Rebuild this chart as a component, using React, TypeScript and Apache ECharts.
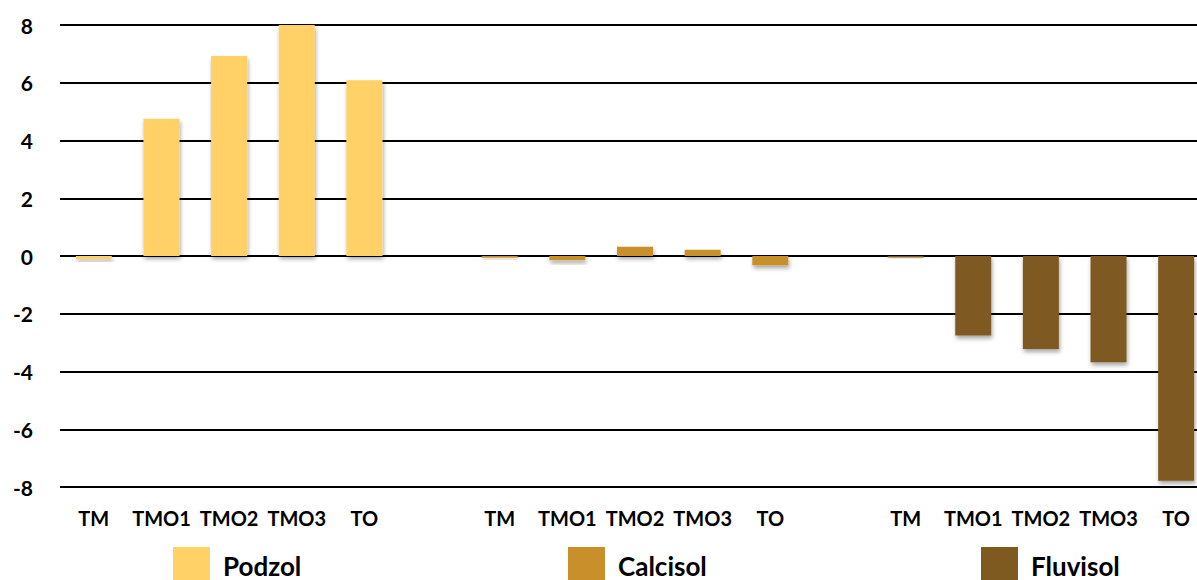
import React, { useEffect, useRef } from "react";
import * as echarts from "echarts";

const groupCategories = ["TM", "TMO1", "TMO2", "TMO3", "TO"];
const seriesNames = ["Podzol", "Calcisol", "Fluvisol"];
const podzol = [-0.1, 4.75, 6.93, 8.0, 6.09];
const calcisol = [-0.06, -0.15, 0.32, 0.22, -0.32];
const fluvisol = [-0.05, -2.75, -3.22, -3.68, -7.78];
const colors = ["#FFD166", "#C98F2B", "#7E5A21"];
const legendLefts = [173, 568, 981];

const FONT = "Lato, 'Open Sans', sans-serif";

export default function App() {
  const ref = useRef<HTMLDivElement>(null);

  useEffect(() => {
    if (!ref.current) return;
    const chart = echarts.init(ref.current, undefined, { renderer: "svg" });

    // 3 groups of 5 with a blank category between groups
    const categories: string[] = [];
    const groups = [podzol, calcisol, fluvisol];
    const seriesData: (number | null)[][] = [[], [], []];
    groups.forEach((vals, gi) => {
      if (gi > 0) {
        categories.push("");
        seriesData.forEach((d) => d.push(null));
      }
      groupCategories.forEach((c, ci) => {
        categories.push(c);
        seriesData.forEach((d, si) => d.push(si === gi ? vals[ci] : null));
      });
    });

    const option: any = {
      animation: false,
      textStyle: { fontFamily: FONT },
      grid: {
        left: 60,
        width: 1150,
        top: 25,
        bottom: 93,
        containLabel: false,
        outerBoundsMode: "none",
      },
      legend: seriesNames.map((n, i) => ({
        data: [n],
        left: legendLefts[i],
        top: 547,
        padding: 0,
        itemWidth: 37,
        itemHeight: 37,
        icon: "rect",
        itemStyle: { shadowBlur: 0, shadowOffsetX: 0, shadowOffsetY: 0 },
        textStyle: {
          fontFamily: FONT,
          fontSize: 26,
          lineHeight: 22,
          fontWeight: "bold",
          color: "#000",
          padding: [0, 0, 0, 8],
        },
        selectedMode: false,
      })),
      xAxis: {
        type: "category",
        data: categories,
        axisLine: { show: false },
        axisTick: { show: false },
        axisLabel: {
          interval: 0,
          fontFamily: FONT,
          fontSize: 20,
          fontWeight: "bold",
          color: "#000",
          margin: 21,
        },
      },
      yAxis: {
        type: "value",
        min: -8,
        max: 8,
        interval: 2,
        axisLine: { show: false },
        axisTick: { show: false },
        axisLabel: {
          fontFamily: FONT,
          fontSize: 21,
          fontWeight: "bold",
          color: "#000",
          margin: 27,
        },
        splitLine: { lineStyle: { color: "#000", width: 2 } },
      },
      series: seriesNames.map((n, i) => ({
        name: n,
        type: "bar",
        data: seriesData[i],
        barWidth: 36,
        barGap: "-100%",
        itemStyle: {
          color: colors[i],
          shadowColor: "rgba(0,0,0,0.35)",
          shadowBlur: 4,
          shadowOffsetX: 1,
          shadowOffsetY: 3,
        },
      })),
    };
    chart.setOption(option);
    return () => chart.dispose();
  }, []);

  return (
    <div
      ref={ref}
      style={{ position: "absolute", left: 0, top: 0, width: 1197, height: 580, background: "#fff", overflow: "hidden" }}
    />
  );
}
